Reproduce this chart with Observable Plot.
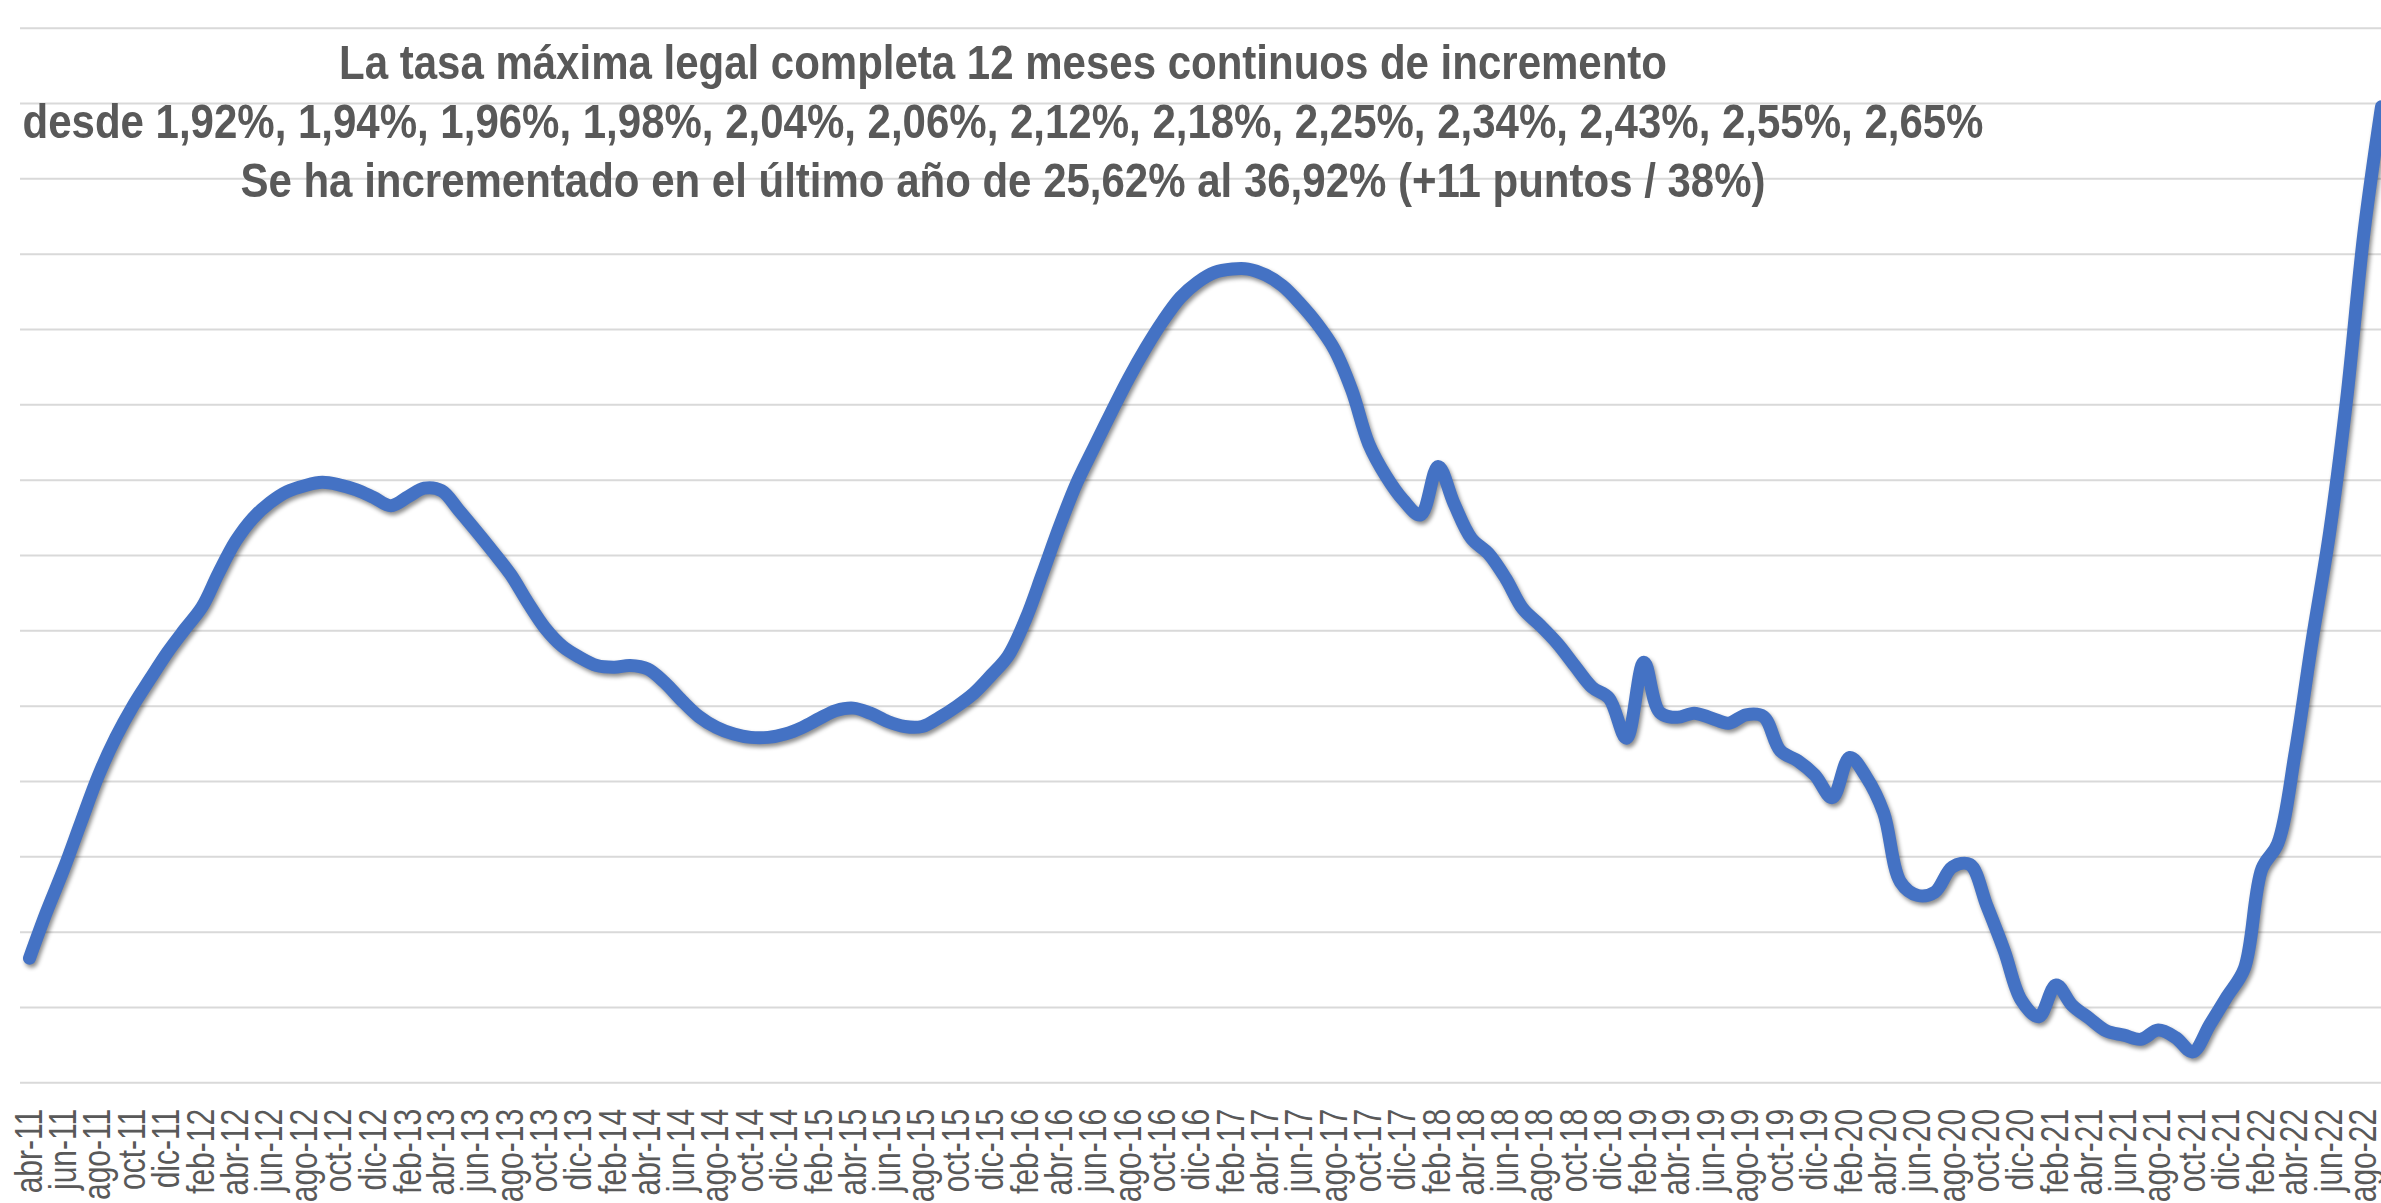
<!DOCTYPE html>
<html>
<head>
<meta charset="utf-8">
<script src="https://cdn.jsdelivr.net/npm/d3@7"></script>
<script src="https://cdn.jsdelivr.net/npm/@observablehq/plot@0.6"></script>
<style>
  html, body { margin: 0; padding: 0; background: #ffffff; overflow: hidden; }
  #wrap { position: relative; width: 2381px; height: 1203px; overflow: hidden; }
  #titulo {
    position: absolute; left: -997px; top: 33px; width: 4000px;
    text-align: center; white-space: nowrap;
    font-family: "Liberation Sans", Arial, sans-serif; font-weight: bold;
    font-size: 49px; line-height: 59px; color: #595959;
    transform: scaleX(0.857); transform-origin: 2000px 0;
    pointer-events: none;
  }
  g[aria-label="line"] { filter: drop-shadow(2px 3px 2px rgba(0,0,0,0.45)); }
</style>
</head>
<body>
<div id="wrap">
  <div id="chart"></div>
  <div id="titulo">
    <div>La tasa máxima legal completa 12 meses continuos de incremento</div>
    <div>desde 1,92%, 1,94%, 1,96%, 1,98%, 2,04%, 2,06%, 2,12%, 2,18%, 2,25%, 2,34%, 2,43%, 2,55%, 2,65%</div>
    <div>Se ha incrementado en el último año de 25,62% al 36,92% (+11 puntos / 38%)</div>
  </div>
</div>
<script>
// Month abbreviations used in the tick labels
const meses = ["ene","feb","mar","abr","may","jun","jul","ago","sep","oct","nov","dic"];

// First month of the series: abril 2011
const anioInicio = 2011;
const mesInicio = 3;

// Monthly values (%), one array per year
const t2011 = [26.74, 27.29, 27.81, 28.36, 28.92, 29.38, 29.75, 30.08, 30.39]; // abr–dic
const t2012 = [30.67, 30.94, 31.34, 31.73, 32.00, 32.19, 32.32, 32.39, 32.43, 32.40, 32.34, 32.25];
const t2013 = [32.15, 32.26, 32.36, 32.33, 32.10, 31.85, 31.60, 31.33, 30.99, 30.69, 30.47, 30.34];
const t2014 = [30.24, 30.22, 30.24, 30.20, 30.04, 29.82, 29.63, 29.50, 29.42, 29.38, 29.38, 29.42];
const t2015 = [29.50, 29.61, 29.70, 29.73, 29.67, 29.57, 29.51, 29.51, 29.62, 29.75, 29.91, 30.12];
const t2016 = [30.36, 30.80, 31.33, 31.91, 32.42, 32.85, 33.26, 33.67, 34.04, 34.36, 34.64, 34.82];
const t2017 = [34.94, 34.98, 34.98, 34.91, 34.78, 34.57, 34.33, 34.02, 33.53, 32.89, 32.50, 32.22];
const t2018 = [32.04, 32.62, 32.18, 31.76, 31.58, 31.28, 30.92, 30.72, 30.50, 30.24, 29.98, 29.85];
const t2019 = [29.37, 30.28, 29.68, 29.62, 29.67, 29.61, 29.55, 29.65, 29.63, 29.22, 29.10, 28.93];
const t2020 = [28.66, 29.14, 28.91, 28.48, 27.65, 27.49, 27.53, 27.83, 27.86, 27.37, 26.83, 26.24];
const t2021 = [26.04, 26.42, 26.18, 26.02, 25.87, 25.82, 25.77, 25.88, 25.79, 25.62, 25.95, 26.28];
const t2022 = [26.62, 27.81, 28.11, 29.20, 30.54, 31.83, 33.41, 35.42, 36.92]; // ene–sep

// Value range of the (unlabelled) vertical axis and number of grid lines
const yDominio = [25.25, 37.86];
const nRejilla = 15;

const tasa = [].concat(t2011, t2012, t2013, t2014, t2015, t2016, t2017, t2018, t2019, t2020, t2021, t2022);
const fechaDe = i => new Date(Date.UTC(anioInicio, mesInicio + i, 1));
const datos = tasa.map((v, i) => ({fecha: fechaDe(i), tasa: v}));
const etiquetas = d3.range(0, tasa.length - 1, 2).map(fechaDe);
const rejilla = d3.range(nRejilla).map(i => yDominio[0] + i * (yDominio[1] - yDominio[0]) / (nRejilla - 1));
const formato = d => `${meses[d.getUTCMonth()]}-${String(d.getUTCFullYear()).slice(2)}`;

const chart = Plot.plot({
  width: 2381,
  height: 1203,
  marginLeft: 29,
  marginRight: 0,
  marginTop: 27.7,
  marginBottom: 120.7,
  style: {fontFamily: "'Liberation Sans', Arial, sans-serif", fontSize: "38px", color: "#595959", background: "white"},
  x: {type: "utc", domain: [datos[0].fecha, datos[datos.length - 1].fecha], label: null},
  y: {domain: yDominio, axis: null},
  marks: [
    Plot.ruleY(rejilla, {stroke: "#d9d9d9", strokeWidth: 2, insetLeft: -9}),
    Plot.axisX(etiquetas, {tickFormat: formato, tickRotate: -90, tickSize: 0, tickPadding: 26, fill: "#595959", stroke: "#595959", strokeWidth: 0.6, fontSize: 38, label: null}),
    Plot.lineY(datos, {x: "fecha", y: "tasa", stroke: "#4472c4", strokeWidth: 13, curve: "catmull-rom", strokeLinecap: "round", strokeLinejoin: "round"})
  ]
});
document.getElementById("chart").appendChild(chart);

// condense tick labels (narrow typeface look)
chart.querySelectorAll('g[aria-label="x-axis tick label"] text').forEach(t => {
  const tr = t.getAttribute("transform");
  if (tr) t.setAttribute("transform", tr + " scale(0.79,1)");
});
</script>
</body>
</html>
